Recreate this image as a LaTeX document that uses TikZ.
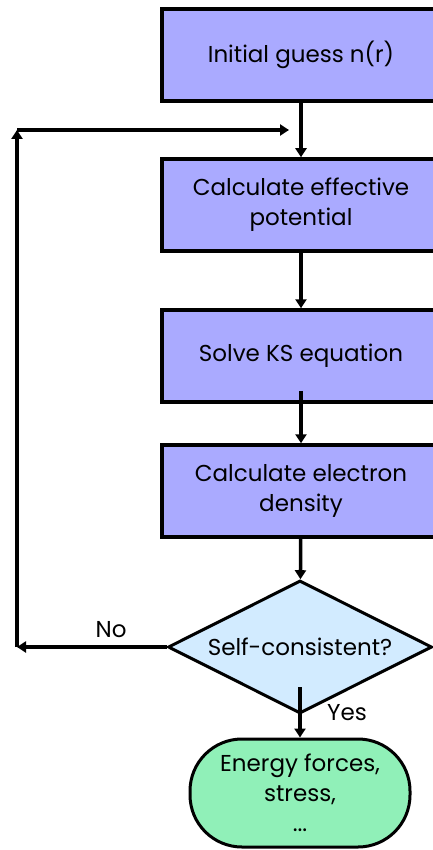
\documentclass[tikz,border=0pt]{standalone}
\usepackage{fontspec}
\setmainfont{Poppins}
\usetikzlibrary{positioning,shapes.geometric,arrows.meta}
\definecolor{procfill}{HTML}{AAAAFF}
\definecolor{decfill}{HTML}{D2EBFF}
\definecolor{endfill}{HTML}{90F0B8}
\tikzset{
  proc/.style={rectangle, draw, line width=3.5pt, fill=procfill, minimum width=278pt, minimum height=92pt, align=center, inner sep=0pt},
  dec/.style={diamond, aspect=1.985, draw, line width=3pt, fill=decfill, minimum width=264pt, minimum height=133pt, inner sep=0pt, align=center},
  term/.style={rectangle, rounded corners=52pt, draw, line width=3pt, fill=endfill, minimum width=220pt, minimum height=108pt, align=center, inner sep=0pt},
  arr/.style={line width=3.5pt, -{Triangle[width=11pt,length=9pt]}},
}
\begin{document}
\begin{tikzpicture}[x=1pt,y=-1pt,node distance=150pt,on grid,
  font=\fontsize{23}{30}\selectfont]
\useasboundingbox (0,0) rectangle (433,850);
\clip (0,0) rectangle (433,850);
\node[proc] (guess) at (301,55) {Initial guess n(r)};
\node[proc] (pot) [below=150pt of guess] {Calculate effective\\potential};
\node[proc] (ks) [below=151pt of pot] {Solve KS equation};
\node[proc] (dens) [below=135pt of ks] {Calculate electron\\density};
\node[dec] (sc) [below=156pt of dens,xshift=-1pt] {Self-consistent?};
\node[term] (out) [below=146pt of sc] {Energy forces,\\stress,\\...};

% feedback loop corners
\coordinate (lb) at (17,647);
\coordinate (lt) at (17,130);
\coordinate (lj) at (289,130);

\draw[arr] (guess) -- (pot);
\draw[arr] (pot) -- (ks);
\draw[arr] ([yshift=13pt]ks.south) -- (dens);
\draw[arr] (dens) -- (sc);
\draw[arr] ([yshift=28pt]sc.south) -- node[pos=0.5,right=22pt] {Yes} (out);
\draw[arr] (sc.west) -- node[pos=0.37,above=4pt] {No} (lb);
\draw[arr] (lb) -- (lt);
\draw[arr] (lt) -- (lj);
\end{tikzpicture}
\end{document}
